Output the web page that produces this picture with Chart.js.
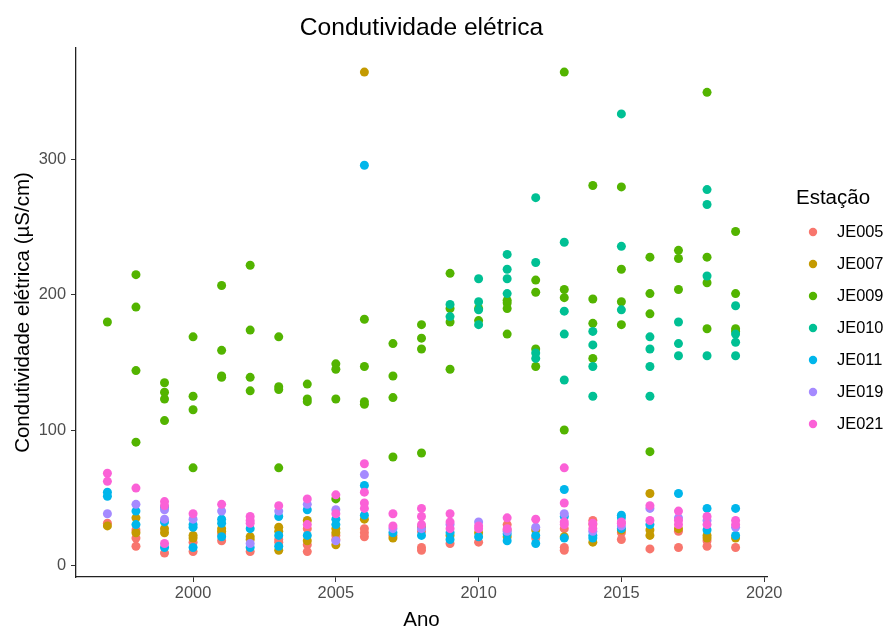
<!DOCTYPE html>
<html>
<head>
<meta charset="utf-8">
<script src="https://cdn.jsdelivr.net/npm/chart.js@4.4.1/dist/chart.umd.min.js"></script>
<style>
  html, body { margin: 0; padding: 0; background: #fff; }
  #wrap { width: 889px; height: 626px; }
</style>
</head>
<body>
<div id="wrap"><canvas id="chart"></canvas></div>
<script>
// measurements per station, keyed by year (µS/cm)
const je005 = {1997: [31], 1998: [26, 20, 14], 1999: [9], 2000: [17, 10], 2001: [23, 18], 2002: [10], 2003: [19, 17],
  2004: [27, 15, 10], 2005: [22, 19], 2006: [27, 24, 21], 2007: [22], 2008: [25, 13, 11], 2009: [16], 2010: [17],
  2011: [30, 26], 2012: [20], 2013: [27, 13, 11], 2014: [33, 30], 2015: [24, 19], 2016: [12], 2017: [25, 13],
  2018: [18, 14], 2019: [13]};
const je007 = {1997: [29], 1998: [35, 24], 1999: [27, 24], 2000: [22, 20], 2001: [27, 25], 2002: [21, 19], 2003: [28, 25, 11],
  2004: [33, 18], 2005: [27, 24, 15], 2006: [365, 34], 2007: [20], 2008: [28], 2009: [22], 2010: [24], 2011: [21],
  2012: [26], 2013: [21], 2014: [17], 2015: [26], 2016: [53, 26, 22], 2017: [27], 2018: [22, 20], 2019: [20]};
const je009 = {1997: [180], 1998: [215, 191, 144, 91], 1999: [135, 128, 123, 107], 2000: [169, 125, 115, 72],
  2001: [207, 159, 140, 139], 2002: [222, 174, 139, 129], 2003: [169, 132, 130, 72], 2004: [134, 123, 121],
  2005: [149, 145, 123, 49], 2006: [182, 147, 121, 119], 2007: [164, 140, 124, 80], 2008: [178, 168, 160, 83],
  2009: [216, 190, 180, 145], 2010: [190, 181], 2011: [196, 194, 190, 171], 2012: [211, 202, 160, 147],
  2013: [365, 204, 198, 100], 2014: [281, 197, 179, 153], 2015: [280, 219, 195, 178], 2016: [228, 201, 186, 84],
  2017: [233, 227, 204], 2018: [350, 228, 209, 175], 2019: [247, 201, 175, 173]};
const je010 = {2009: [193, 184], 2010: [212, 195, 189, 178], 2011: [230, 219, 212, 201], 2012: [272, 224, 157, 153],
  2013: [239, 188, 171, 137], 2014: [173, 163, 147, 125], 2015: [334, 236, 189], 2016: [169, 160, 147, 125],
  2017: [180, 164, 155], 2018: [278, 267, 214, 155], 2019: [192, 171, 165, 155]};
const je011 = {1997: [54, 51], 1998: [40, 30], 1999: [43, 32, 13], 2000: [30, 28, 13], 2001: [34, 31, 21], 2002: [27, 13],
  2003: [36, 22, 14], 2004: [41, 22], 2005: [34, 30], 2006: [296, 59, 37], 2007: [24], 2008: [22], 2009: [24, 19],
  2010: [21], 2011: [23, 18], 2012: [22, 16], 2013: [56, 36, 20], 2014: [22, 20], 2015: [37, 35, 27], 2016: [30],
  2017: [53], 2018: [42, 26], 2019: [42, 22]};
const je019 = {1997: [38], 1998: [45], 1999: [41, 34], 2000: [34], 2001: [40], 2002: [16], 2003: [40], 2004: [45],
  2005: [41, 18], 2006: [67], 2007: [27], 2008: [27], 2009: [30], 2010: [32], 2011: [25], 2012: [28], 2013: [38],
  2014: [25], 2015: [29], 2016: [42], 2017: [35], 2018: [33], 2019: [28]};
const je021 = {1997: [68, 62], 1998: [57], 1999: [47, 44, 16], 2000: [38], 2001: [45], 2002: [36, 33, 31], 2003: [44],
  2004: [49, 30], 2005: [52, 38], 2006: [75, 54, 46, 42], 2007: [38, 29], 2008: [42, 36, 30], 2009: [38, 32, 27],
  2010: [29, 27], 2011: [35, 27], 2012: [34], 2013: [72, 46, 32, 30], 2014: [31, 27], 2015: [32, 31], 2016: [44, 33],
  2017: [40, 33, 30], 2018: [36, 30], 2019: [33, 30]};

const stations = ['JE005', 'JE007', 'JE009', 'JE010', 'JE011', 'JE019', 'JE021'];
const stationData = [je005, je007, je009, je010, je011, je019, je021];
const colors = ['#F8766D', '#C49A00', '#53B400', '#00C094', '#00B6EB', '#A58AFF', '#FB61D7'];
const xTicks = [2000, 2005, 2010, 2015, 2020];
const yTicks = [0, 100, 200, 300];

const FONT = '"Liberation Sans", Arial, sans-serif';

function toPoints(byYear) {
  const pts = [];
  Object.entries(byYear).forEach(([year, vals]) => {
    vals.forEach(v => pts.push({x: Number(year), y: v}));
  });
  return pts;
}

// ggplot-like legend on the right
const sideLegend = {
  id: 'sideLegend',
  afterDraw(chart) {
    const ctx = chart.ctx;
    const left = chart.chartArea.right + 29;
    ctx.save();
    ctx.textBaseline = 'middle';
    ctx.textAlign = 'left';
    ctx.fillStyle = '#000';
    ctx.font = '20.5px ' + FONT;
    ctx.fillText('Estação', left, 198);
    chart.data.datasets.forEach((ds, i) => {
      const y = 232 + i * 32;
      ctx.beginPath();
      ctx.arc(left + 17, y, 4.2, 0, Math.PI * 2);
      ctx.fillStyle = ds.backgroundColor;
      ctx.fill();
      ctx.fillStyle = '#000';
      ctx.font = '16.4px ' + FONT;
      ctx.fillText(ds.label, left + 41, y);
    });
    ctx.restore();
  }
};

const ctx = document.getElementById('chart').getContext('2d');
new Chart(ctx, {
  type: 'scatter',
  data: {
    datasets: stations.map((name, i) => ({
      label: name,
      data: toPoints(stationData[i]),
      backgroundColor: colors[i],
      borderWidth: 0,
      pointRadius: 4.5,
      order: stations.length - 1 - i
    }))
  },
  options: {
    responsive: true,
    maintainAspectRatio: false,
    animation: false,
    layout: { padding: { right: 122 } },
    plugins: {
      legend: { display: false },
      tooltip: { enabled: false },
      title: {
        display: true,
        fullSize: false,
        text: 'Condutividade elétrica',
        color: '#000',
        font: { family: FONT, size: 24.6, weight: 'normal', lineHeight: 1.2 },
        padding: { top: 13, bottom: 5.5 }
      }
    },
    scales: {
      x: {
        type: 'linear',
        min: 1995.9,
        max: 2020.1,
        afterFit: s => { s.height = 49; },
        afterBuildTicks: s => { s.ticks = xTicks.map(v => ({value: v})); },
        grid: { display: true, drawOnChartArea: false, drawTicks: true, tickLength: 5, color: '#333' },
        border: { display: true, color: '#222', width: 1.3 },
        ticks: { color: '#4D4D4D', font: { family: FONT, size: 16.4 }, padding: 2, maxRotation: 0, callback: v => String(v) },
        title: { display: true, text: 'Ano', color: '#000', font: { family: FONT, size: 20.5, lineHeight: 0.6 }, padding: 0 }
      },
      y: {
        type: 'linear',
        min: -8.8,
        max: 382.8,
        afterFit: s => { s.width = 76; },
        afterBuildTicks: s => { s.ticks = yTicks.map(v => ({value: v})); },
        grid: { display: true, drawOnChartArea: false, drawTicks: true, tickLength: 5, color: '#333' },
        border: { display: true, color: '#222', width: 1.3 },
        ticks: { color: '#4D4D4D', font: { family: FONT, size: 16.4 }, padding: 5, callback: v => String(v) },
        title: { display: true, text: 'Condutividade elétrica (µS/cm)', color: '#000', font: { family: FONT, size: 20.5, lineHeight: 1.2 }, padding: { top: 11, bottom: 0 } }
      }
    }
  },
  plugins: [sideLegend]
});
</script>
</body>
</html>
